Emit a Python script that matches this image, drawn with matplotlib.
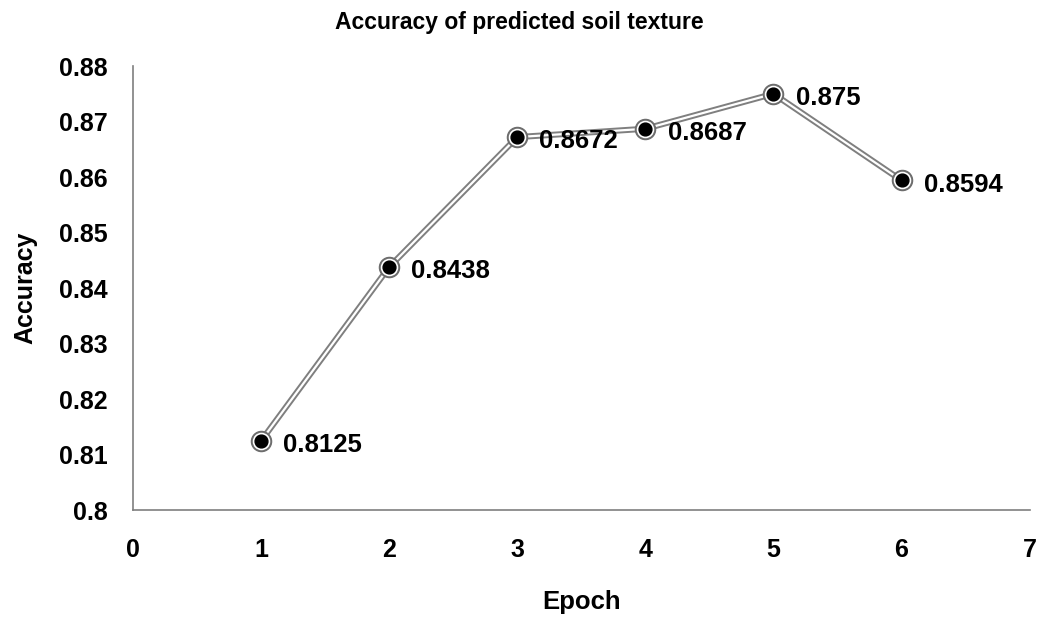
import matplotlib.pyplot as plt
import matplotlib.patheffects as pe

plt.rcParams['font.family'] = ['Liberation Sans', 'DejaVu Sans']
plt.rcParams['font.weight'] = 'bold'

epochs = [1, 2, 3, 4, 5, 6]
accuracy = [0.8125, 0.8438, 0.8672, 0.8687, 0.875, 0.8594]
labels = ["0.8125", "0.8438", "0.8672", "0.8687", "0.875", "0.8594"]

fig = plt.figure(figsize=(10.39, 6.17), dpi=100)
ax = fig.add_axes([0.128, 0.173, 0.863, 0.72])

# double line: grey outline with white core
ax.plot(epochs, accuracy, color="white", lw=1.6, zorder=2,
        path_effects=[pe.Stroke(linewidth=4.4, foreground="#7f7f7f"), pe.Normal()])
ax.scatter(epochs, accuracy, s=210, color="#6d6d6d", zorder=3)
ax.scatter(epochs, accuracy, s=135, color="white", zorder=4)
ax.scatter(epochs, accuracy, s=85, color="black", zorder=5)

for x, y, t in zip(epochs, accuracy, labels):
    ax.annotate(t, (x, y), xytext=(16, -3), textcoords="offset points",
                ha="left", va="center", fontsize=18.5, fontweight="bold")

ax.set_xlim(0, 7)
ax.set_ylim(0.8, 0.88)
ax.set_xticks(range(0, 8))
ax.set_yticks([0.8, 0.81, 0.82, 0.83, 0.84, 0.85, 0.86, 0.87, 0.88])
ax.set_yticklabels(["0.8", "0.81", "0.82", "0.83", "0.84", "0.85", "0.86", "0.87", "0.88"])
ax.tick_params(length=0, labelsize=18, pad=18)
ax.tick_params(axis="x", pad=20)

for s in ["top", "right"]:
    ax.spines[s].set_visible(False)
for s in ["left", "bottom"]:
    ax.spines[s].set_color("#7f7f7f")
    ax.spines[s].set_linewidth(1.2)

fig.text(0.5, 0.963, "Accuracy of predicted soil texture", ha="center", va="center",
         fontsize=16.5, fontweight="bold")
ax.set_xlabel("Epoch", fontsize=18.5, fontweight="bold", labelpad=20)
ax.set_ylabel("Accuracy", fontsize=18, fontweight="bold", labelpad=16)

fig.savefig("out.png", dpi=100)
